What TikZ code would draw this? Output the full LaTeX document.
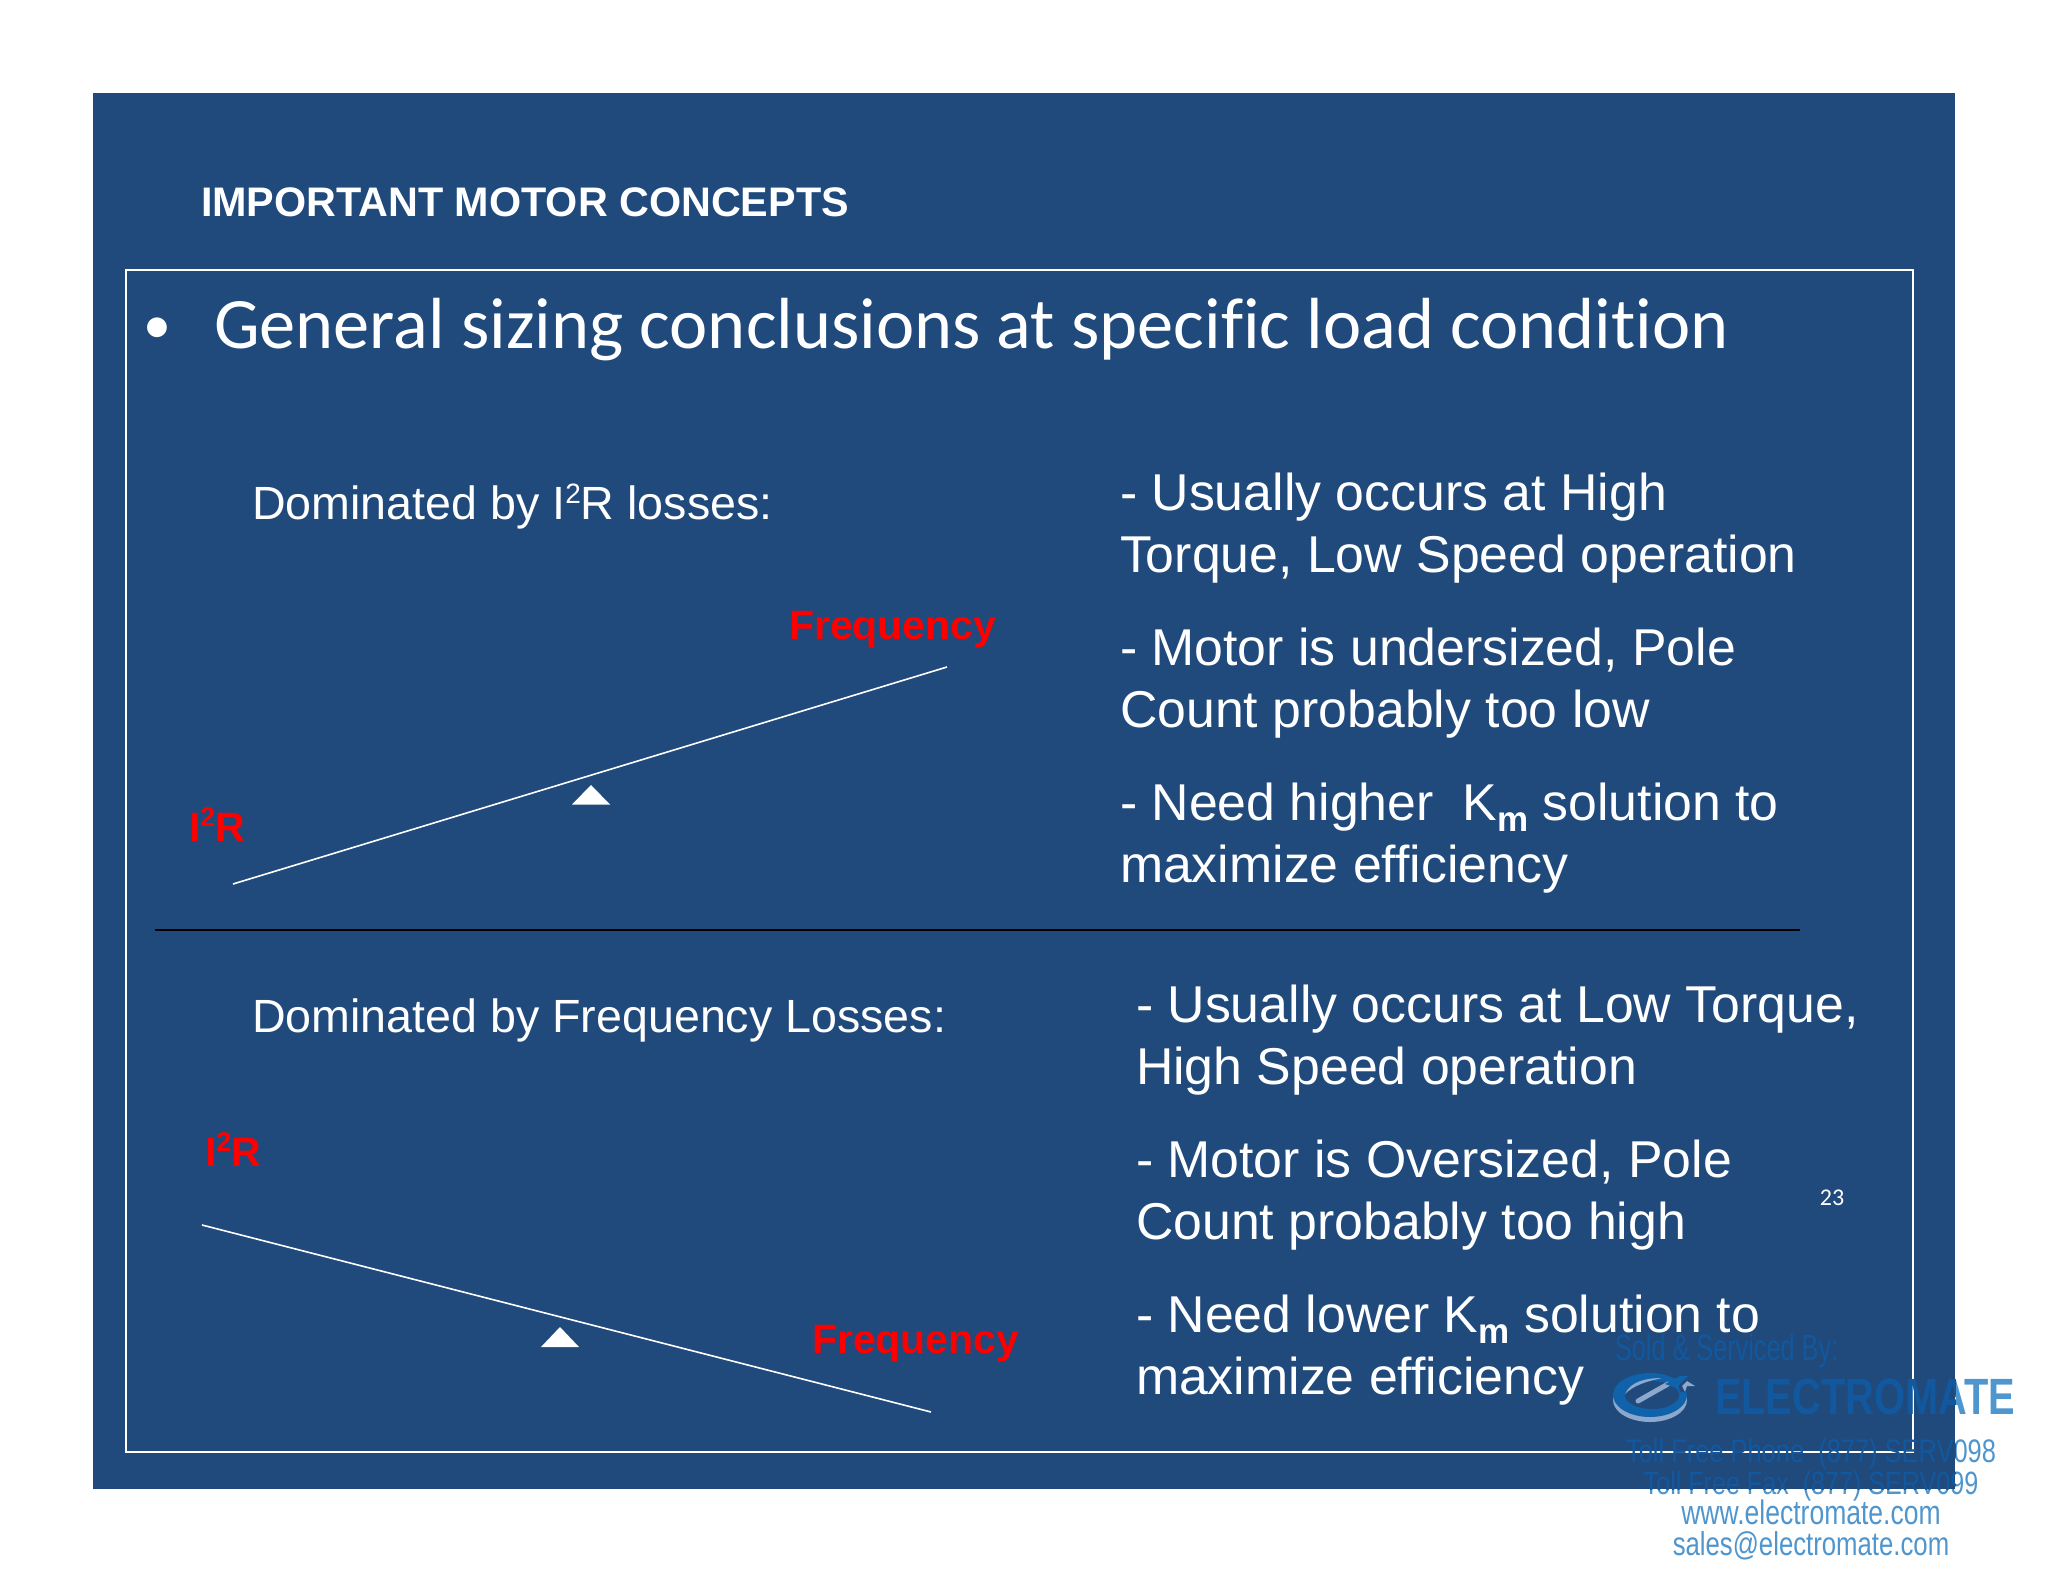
\documentclass[tikz,border=0pt]{standalone}
\usepackage{fontspec}
\setmainfont{Liberation Sans}
\newfontfamily\calfont[Ligatures=NoCommon]{Carlito}
\newfontfamily\wmfont[FakeStretch=0.78]{Liberation Sans}
\newfontfamily\wmnarrow[FakeStretch=0.69]{Liberation Sans}
\definecolor{slidebg}{HTML}{20497C}
\definecolor{wmlight}{HTML}{5096CE}
\definecolor{wmdark}{HTML}{12589E}
\definecolor{logoblue}{HTML}{1062AA}
\definecolor{logopale}{HTML}{8CA8CC}
\newcommand{\supii}[1]{\raisebox{0.36em}{\fontsize{#1}{#1}\selectfont 2}}
\newcommand{\wmtexts}[2]{%
  \node[wmt,text=#2,font=\wmfont\bfseries\fontsize{25.5}{30}\selectfont] (#1brand) at (1715,1414) {ELECTROMATE};
  \node[wmc,text=#2,font=\wmfont\fontsize{16.3}{20}\selectfont] (#1phone) at (1811,1462) {Toll Free Phone~ (877) SERV098};
  \node[wmc,text=#2,font=\wmfont\fontsize{16.1}{20}\selectfont] (#1fax) at (1811,1494.5) {Toll Free Fax~ (877) SERV099};
}
\begin{document}
\begin{tikzpicture}[x=0.5pt,y=-0.5pt,
  txt/.style={inner sep=0pt,outer sep=0pt,anchor=base west,text=white},
  body/.style={txt,font=\fontsize{25.9}{31}\selectfont},
  head/.style={txt,font=\fontsize{23.3}{28}\selectfont},
  redlab/.style={txt,text=red,font=\bfseries\fontsize{20.5}{24}\selectfont},
  wmt/.style={inner sep=0pt,outer sep=0pt,anchor=base west},
  wmc/.style={inner sep=0pt,outer sep=0pt,anchor=base,font=\wmfont\fontsize{16.5}{20}\selectfont},
  beam/.style={white,line width=0.8pt},
  pivot/.style={fill=white,draw=none}]
\useasboundingbox (0,0) rectangle (2048,1582);
\fill[white] (0,0) rectangle (2048,1582);
\fill[slidebg] (93,93) rectangle (1955,1489);
\draw[white,line width=1pt] (126,270) rectangle (1913,1452);
% texts
\node[txt,font=\bfseries\fontsize{20.65}{26}\selectfont] (title) at (201,217) {IMPORTANT MOTOR CONCEPTS};
\node[txt,anchor=base,font=\calfont\fontsize{28}{36}\selectfont] (bullet) at (157,344) {•};
\node[txt,font=\calfont\fontsize{36.2}{44}\selectfont] (general) at (214,349) {General sizing conclusions at specific load condition};
\node[head] (dom1) at (252,520) {Dominated by I\supii{14}R losses:};
\node[head] (dom2) at (252,1032) {Dominated by Frequency Losses:};
\node[body] (a1) at (1120,511) {- Usually occurs at High};
\node[body] (a2) at (1120,572.5) {Torque, Low Speed operation};
\node[body] (a3) at (1120,665.5) {- Motor is undersized, Pole};
\node[body] (a4) at (1120,727) {Count probably too low};
\node[body] (a5) at (1120,820) {- Need higher~ K\raisebox{-0.22em}{\fontsize{17.5}{20}\selectfont\bfseries m} solution to};
\node[body] (a6) at (1120,882) {maximize efficiency};
\node[body] (b1) at (1136,1022) {- Usually occurs at Low Torque,};
\node[body] (b2) at (1136,1084) {High Speed operation};
\node[body] (b3) at (1136,1177) {- Motor is Oversized, Pole};
\node[body] (b4) at (1136,1239) {Count probably too high};
\node[body] (b5) at (1136,1332) {- Need lower K\raisebox{-0.22em}{\fontsize{17.5}{20}\selectfont\bfseries m} solution to};
\node[body] (b6) at (1136,1394) {maximize efficiency};
\node[txt,anchor=base,font=\calfont\fontsize{12}{14}\selectfont] (pagenum) at (1832,1205) {23};
% upper balance
\coordinate (l1a) at (233,884);
\coordinate (l1b) at (947,667);
\draw[beam] (l1a) -- (l1b);
\fill[pivot] (591,785) -- (610,804.5) -- (572,804.5) -- cycle;
\node[redlab] (f1) at (789,639) {Frequency};
\node[redlab] (r1) at (189,841) {I\supii{13.5}R};
% divider
\coordinate (da) at (155,930);
\coordinate (db) at (1800,930);
\draw[black,line width=1pt] (da) -- (db);
% lower balance
\coordinate (l2a) at (202,1225);
\coordinate (l2b) at (931,1412);
\draw[beam] (l2a) -- (l2b);
\fill[pivot] (560,1327) -- (579,1347) -- (541,1347) -- cycle;
\node[redlab] (r2) at (205,1166) {I\supii{13.5}R};
\node[redlab] (f2) at (812,1353) {Frequency};
% watermark: pale on white paper, darker where it crosses the slide
\node[wmt,text=wmdark,font=\wmnarrow\fontsize{18.3}{20}\selectfont] (sold) at (1615,1360) {Sold \& Serviced By:};
\node[wmc,text=wmlight,font=\wmfont\fontsize{17}{20}\selectfont] (web) at (1811,1524.5) {www.electromate.com};
\node[wmc,text=wmlight] (mail) at (1811,1555.5) {sales@electromate.com};
\begin{scope}
\clip (1955,1300) -- (2048,1300) -- (2048,1582) -- (93,1582) -- (93,1489) -- (1955,1489) -- cycle;
\wmtexts{o}{wmlight}
\end{scope}
\begin{scope}
\clip (93,93) rectangle (1955,1489);
\wmtexts{i}{wmdark}
\end{scope}
% logo
\fill[logopale] (1650,1400) ellipse [x radius=37,y radius=22];
\fill[logoblue] (1650,1395) ellipse [x radius=37,y radius=22];
\fill[slidebg] (1652,1395) ellipse [x radius=27,y radius=14];
\fill[slidebg] (1676,1372) -- (1694,1372) -- (1692,1392) -- (1680,1392) -- cycle;
\fill[logopale] (1625,1394) .. controls (1630,1382) and (1645,1378) .. (1662,1378) .. controls (1648,1381) and (1634,1385) .. (1625,1394) -- cycle;
\draw[logopale,line width=2.5pt,line cap=round] (1638,1401) -- (1668,1384);
\fill[logoblue] (1665,1384) -- (1680,1376) -- (1688,1376) -- (1676,1388) -- cycle;
\fill[logopale] (1682,1386) -- (1687,1381) -- (1695,1386) -- (1687,1386) -- (1685,1392) -- cycle;
\end{tikzpicture}
\end{document}
